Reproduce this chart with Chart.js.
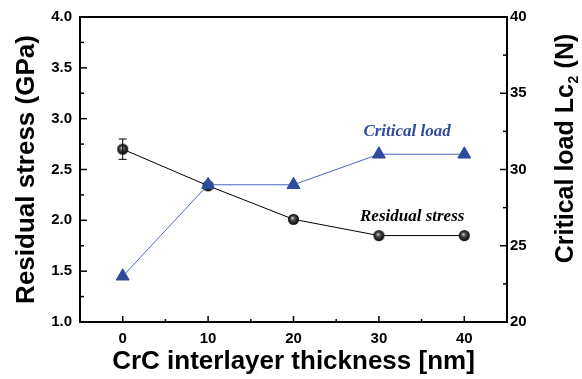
<!DOCTYPE html>
<html>
<head>
<meta charset="utf-8">
<script src="https://cdn.jsdelivr.net/npm/chart.js@4"></script>
<style>
  html, body { margin: 0; padding: 0; background: #fff; }
  #wrap { width: 582px; height: 379px; position: relative; }
</style>
</head>
<body>
<div id="wrap"><canvas id="chart"></canvas></div>
<script>
// data
const thickness = [0, 10, 20, 30, 40];
const residualStress = [2.70, 2.34, 2.01, 1.85, 1.85];
const stressErrLow = [2.60, null, null, null, null];
const stressErrHigh = [2.80, null, null, null, null];
const criticalLoad = [23, 29, 29, 31, 31];

const sansFamily = '"Liberation Sans", Arial, sans-serif';

// shiny black ball used as point marker
function makeBall(r) {
  const c = document.createElement('canvas');
  c.width = c.height = r * 2 + 2;
  const g = c.getContext('2d');
  const cx = r + 1, cy = r + 1;
  const grad = g.createRadialGradient(cx - 1, cy - 1.5, 0, cx, cy, r);
  grad.addColorStop(0, '#e8e8e8');
  grad.addColorStop(0.35, '#555');
  grad.addColorStop(1, '#000');
  g.fillStyle = grad;
  g.beginPath();
  g.arc(cx, cy, r, 0, Math.PI * 2);
  g.fill();
  return c;
}
const ball = makeBall(5.5);

// inward tick marks, frame, error bar, right title and in-plot labels
const extras = {
  id: 'extras',
  afterDatasetsDraw(chart) {
    const ctx = chart.ctx;
    const a = chart.chartArea;
    const x = chart.scales.x, yl = chart.scales.y, yr = chart.scales.y2;
    ctx.save();
    ctx.strokeStyle = '#000';
    ctx.lineWidth = 1.5;
    // x ticks (bottom)
    for (let v = 0; v <= 40; v += 5) {
      const px = x.getPixelForValue(v);
      const len = v % 10 === 0 ? 6 : 3;
      ctx.beginPath(); ctx.moveTo(px, a.bottom); ctx.lineTo(px, a.bottom - len); ctx.stroke();
    }
    // left ticks
    for (let v = 1.0; v <= 4.0001; v += 0.25) {
      const py = yl.getPixelForValue(v);
      const len = Math.abs(v * 2 - Math.round(v * 2)) < 1e-6 ? 7 : 4;
      ctx.beginPath(); ctx.moveTo(a.left, py); ctx.lineTo(a.left + len, py); ctx.stroke();
    }
    // right ticks
    for (let v = 20; v <= 40; v += 2.5) {
      const py = yr.getPixelForValue(v);
      const len = v % 5 === 0 ? 7 : 4;
      ctx.beginPath(); ctx.moveTo(a.right, py); ctx.lineTo(a.right - len, py); ctx.stroke();
    }
    // frame
    ctx.lineWidth = 2;
    ctx.strokeRect(a.left, a.top, a.right - a.left, a.bottom - a.top);

    // error bars
    ctx.lineWidth = 1;
    thickness.forEach((t, i) => {
      if (stressErrLow[i] == null) return;
      const px = x.getPixelForValue(t);
      const y1 = yl.getPixelForValue(stressErrLow[i]);
      const y2 = yl.getPixelForValue(stressErrHigh[i]);
      ctx.beginPath();
      ctx.moveTo(px, y1); ctx.lineTo(px, y2);
      ctx.moveTo(px - 4, y1); ctx.lineTo(px + 4, y1);
      ctx.moveTo(px - 4, y2); ctx.lineTo(px + 4, y2);
      ctx.stroke();
    });

    // right axis title, reading bottom to top, with subscript
    const main = 'Critical load Lc', sub = '2', tail = ' (N)';
    const bigFont = 'bold 25px ' + sansFamily, subFont = 'bold 14px ' + sansFamily;
    ctx.font = bigFont; const w1 = ctx.measureText(main).width, w3 = ctx.measureText(tail).width;
    ctx.font = subFont; const w2 = ctx.measureText(sub).width;
    const total = w1 + w2 + w3;
    ctx.translate(566, 149);
    ctx.rotate(-Math.PI / 2);
    ctx.fillStyle = '#000';
    ctx.textAlign = 'left';
    ctx.textBaseline = 'middle';
    let cx = -total / 2;
    ctx.font = bigFont; ctx.fillText(main, cx, 0); cx += w1;
    ctx.font = subFont; ctx.fillText(sub, cx + 0.5, 8); cx += w2 + 1;
    ctx.font = bigFont; ctx.fillText(tail, cx, 0);
    ctx.setTransform(1, 0, 0, 1, 0, 0);

    // series labels
    ctx.font = 'italic bold 17px "Liberation Serif", "DejaVu Serif", serif';
    ctx.textAlign = 'center';
    ctx.textBaseline = 'middle';
    ctx.fillStyle = '#2e4b9e';
    ctx.fillText('Critical load', x.getPixelForValue(33.3), yr.getPixelForValue(32.5));
    ctx.fillStyle = '#000';
    ctx.fillText('Residual stress', x.getPixelForValue(33.9), yl.getPixelForValue(2.04));
    ctx.restore();
  }
};

const tickFont = { family: sansFamily, size: 15, weight: 'bold' };
const titleFont = { family: sansFamily, size: 26, weight: 'bold' };

new Chart(document.getElementById('chart'), {
  type: 'line',
  data: {
    datasets: [{
      label: 'Critical load',
      data: thickness.map((t, i) => ({ x: t, y: criticalLoad[i] })),
      yAxisID: 'y2',
      borderColor: '#4a67bd',
      borderWidth: 1,
      pointStyle: 'triangle',
      pointRadius: 7.5,
      pointBackgroundColor: '#2e4b9e',
      pointBorderColor: '#2e4b9e',
      pointBorderWidth: 1
    }, {
      label: 'Residual stress',
      data: thickness.map((t, i) => ({ x: t, y: residualStress[i] })),
      yAxisID: 'y',
      borderColor: '#000',
      borderWidth: 1,
      pointStyle: ball,
      pointRadius: 6
    }]
  },
  options: {
    responsive: true,
    maintainAspectRatio: false,
    animation: false,
    layout: { padding: { top: 12, left: 0, right: 0, bottom: 0 } },
    plugins: { legend: { display: false }, tooltip: { enabled: false } },
    scales: {
      x: {
        type: 'linear',
        min: -5, max: 45,
        afterFit: s => { s.height = 57; },
        afterBuildTicks: s => { s.ticks = thickness.map(v => ({ value: v })); },
        grid: { display: false, drawTicks: false },
        border: { display: false },
        ticks: { padding: 8, color: '#000', font: tickFont },
        title: { display: true, text: 'CrC interlayer thickness [nm]', color: '#000', font: titleFont, padding: { top: 0, bottom: 2 } }
      },
      y: {
        position: 'left',
        min: 1.0, max: 4.0,
        afterFit: s => { s.width = 80; },
        grid: { display: false, drawTicks: false },
        border: { display: false },
        ticks: { stepSize: 0.5, padding: 8, color: '#000', font: tickFont, callback: v => v.toFixed(1) },
        title: { display: true, text: 'Residual stress (GPa)', color: '#000', font: titleFont, padding: { top: 11, bottom: 0 } }
      },
      y2: {
        position: 'right',
        min: 20, max: 40,
        afterFit: s => { s.width = 75; },
        grid: { display: false, drawTicks: false },
        border: { display: false },
        ticks: { stepSize: 5, padding: 3, color: '#000', font: tickFont }
      }
    }
  },
  plugins: [extras]
});
</script>
</body>
</html>
